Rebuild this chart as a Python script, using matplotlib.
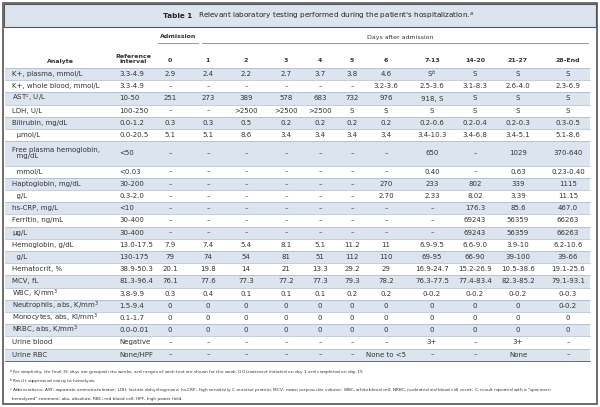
import matplotlib.pyplot as plt
from matplotlib.patches import Rectangle

D = "–"
columns = ["0", "1", "2", "3", "4", "5", "6", "7-13", "14-20", "21-27", "28-End"]
analytes = ["K+, plasma, mmol/L", "K+, whole blood, mmol/L", "AST$^{c}$, U/L", "LDH, U/L",
            "Bilirubin, mg/dL", "  µmol/L", "Free plasma hemoglobin,\n  mg/dL", "  mmol/L",
            "Haptoglobin, mg/dL", "  g/L", "hs-CRP, mg/L", "Ferritin, ng/mL", "µg/L",
            "Hemoglobin, g/dL", "  g/L", "Hematocrit, %", "MCV, fL", "WBC, K/mm$^3$",
            "Neutrophils, abs, K/mm$^3$", "Monocytes, abs, Kl/mm$^3$", "NRBC, abs, K/mm$^3$",
            "Urine blood", "Urine RBC"]
ref_interval = ["3.3-4.9", "3.3-4.9", "10-50", "100-250", "0.0-1.2", "0.0-20.5", "<50", "<0.03",
                "30-200", "0.3-2.0", "<10", "30-400", "30-400", "13.0-17.5", "130-175",
                "38.9-50.3", "81.3-96.4", "3.8-9.9", "1.5-9.4", "0.1-1.7", "0.0-0.01",
                "Negative", "None/HPF"]
values = [
    ["2.9", "2.4", "2.2", "2.7", "3.7", "3.8", "4.6", "S$^{b}$", "S", "S", "S"],
    [D, D, D, D, D, D, "3.2-3.6", "2.5-3.6", "3.1-8.3", "2.6-4.0", "2.3-6.9"],
    ["251", "273", "389", "578", "683", "732", "976", "918, S", "S", "S", "S"],
    [D, D, ">2500", ">2500", ">2500", "S", "S", "S", "S", "S", "S"],
    ["0.3", "0.3", "0.5", "0.2", "0.2", "0.2", "0.2", "0.2-0.6", "0.2-0.4", "0.2-0.3", "0.3-0.5"],
    ["5.1", "5.1", "8.6", "3.4", "3.4", "3.4", "3.4", "3.4-10.3", "3.4-6.8", "3.4-5.1", "5.1-8.6"],
    [D, D, D, D, D, D, D, "650", D, "1029", "370-640"],
    [D, D, D, D, D, D, D, "0.40", D, "0.63", "0.23-0.40"],
    [D, D, D, D, D, D, "270", "233", "802", "339", "1115"],
    [D, D, D, D, D, D, "2.70", "2.33", "8.02", "3.39", "11.15"],
    [D, D, D, D, D, D, D, D, "176.3", "85.6", "467.0"],
    [D, D, D, D, D, D, D, D, "69243", "56359", "66263"],
    [D, D, D, D, D, D, D, D, "69243", "56359", "66263"],
    ["7.9", "7.4", "5.4", "8.1", "5.1", "11.2", "11", "6.9-9.5", "6.6-9.0", "3.9-10", "6.2-10.6"],
    ["79", "74", "54", "81", "51", "112", "110", "69-95", "66-90", "39-100", "39-66"],
    ["20.1", "19.8", "14", "21", "13.3", "29.2", "29", "16.9-24.7", "15.2-26.9", "10.5-38.6", "19.1-25.6"],
    ["76.1", "77.6", "77.3", "77.2", "77.3", "79.3", "78.2", "76.3-77.5", "77.4-83.4", "82.3-85.2", "79.1-93.1"],
    ["0.3", "0.4", "0.1", "0.1", "0.1", "0.2", "0.2", "0-0.2", "0-0.2", "0-0.2", "0-0.3"],
    ["0", "0", "0", "0", "0", "0", "0", "0", "0", "0", "0-0.2"],
    ["0", "0", "0", "0", "0", "0", "0", "0", "0", "0", "0"],
    ["0", "0", "0", "0", "0", "0", "0", "0", "0", "0", "0"],
    [D, D, D, D, D, D, D, "3+", D, "3+", D],
    [D, D, D, D, D, D, "None to <5", D, D, "None", D],
]
footnotes = [
    "$^{a}$ For simplicity, the final 33 days are grouped into weeks, and ranges of each test are shown for the week. GO treatment initiated on day 1 and completed on day 15.",
    "$^{b}$ Result suppressed owing to hemolysis.",
    "$^{c}$ Abbreviations: AST, aspartate aminotransferase; LDH, lactate dehydrogenase; hs-CRP, high sensitivity C-reactive protein; MCV, mean corpuscular volume; WBC, white blood cell; NRBC, nucleated red blood cell count; C, result reported with a \"specimen\n  hemolyzed\" comment; abs, absolute; RBC, red blood cell; HPF, high power field.",
]

shade = "#dce4f0"
txt = "#333333"
col_x = [170, 208, 246, 286, 320, 352, 386, 432, 475, 518, 568]

fig = plt.figure(figsize=(6, 4.07), dpi=100)
ax = fig.add_axes([0, 0, 1, 1])
ax.set_xlim(0, 600)
ax.set_ylim(407, 0)
ax.axis("off")

# outer box and title band
ax.add_patch(Rectangle((3, 3), 594, 401, fill=False, ec="#555555", lw=1.2))
ax.add_patch(Rectangle((4, 4), 592, 23, fc=shade, ec="#555555", lw=0.8))
ax.text(192, 16, "Table 1", ha="right", va="center", fontsize=5.2, color="#222222", weight="bold")
ax.text(198, 16, "Relevant laboratory testing performed during the patient's hospitalization.$^{a}$",
        ha="left", va="center", fontsize=5.2, color="#222222")

# headers
ax.text(178, 37, "Admission", ha="center", va="center", fontsize=4.5, weight="bold", color=txt)
ax.plot([158, 198], [43, 43], color="#888888", lw=0.6)
ax.text(400, 37, "Days after admission", ha="center", va="center", fontsize=4.5, color=txt)
ax.plot([202, 588], [43, 43], color="#888888", lw=0.6)
ax.text(60, 61, "Analyte", ha="center", va="center", fontsize=4.5, weight="bold", color=txt)
ax.text(133, 59, "Reference\ninterval", ha="center", va="center", fontsize=4.5, weight="bold",
        color=txt, linespacing=1.0)
for c, x in zip(columns, col_x):
    ax.text(x, 61, c, ha="center", va="center", fontsize=4.5, weight="bold", color=txt)

# rows
y = 68
unit = 12.2
for i, (name, ref, vals) in enumerate(zip(analytes, ref_interval, values)):
    h = unit * (2 if "\n" in name else 1)
    if i % 2 == 0:
        ax.add_patch(Rectangle((5, y), 585, h, fc=shade, ec="none"))
    ax.plot([5, 590], [y, y], color="#9aa8c0", lw=0.4)
    yc = y + h / 2
    ax.text(12, yc, name, ha="left", va="center", fontsize=5, color=txt, linespacing=1.0)
    ax.text(119, yc, ref, ha="left", va="center", fontsize=5, color=txt)
    for v, x in zip(vals, col_x):
        ax.text(x, yc, v, ha="center", va="center", fontsize=5, color=txt)
    y += h
ax.plot([5, 590], [y, y], color="#555555", lw=0.6)

fy = [368, 377, 386.5]
for f, yy in zip(footnotes, fy):
    ax.text(9, yy, f, ha="left", va="top", fontsize=3.1, color="#333333", linespacing=1.5)

fig.savefig("out.png", dpi=100)
